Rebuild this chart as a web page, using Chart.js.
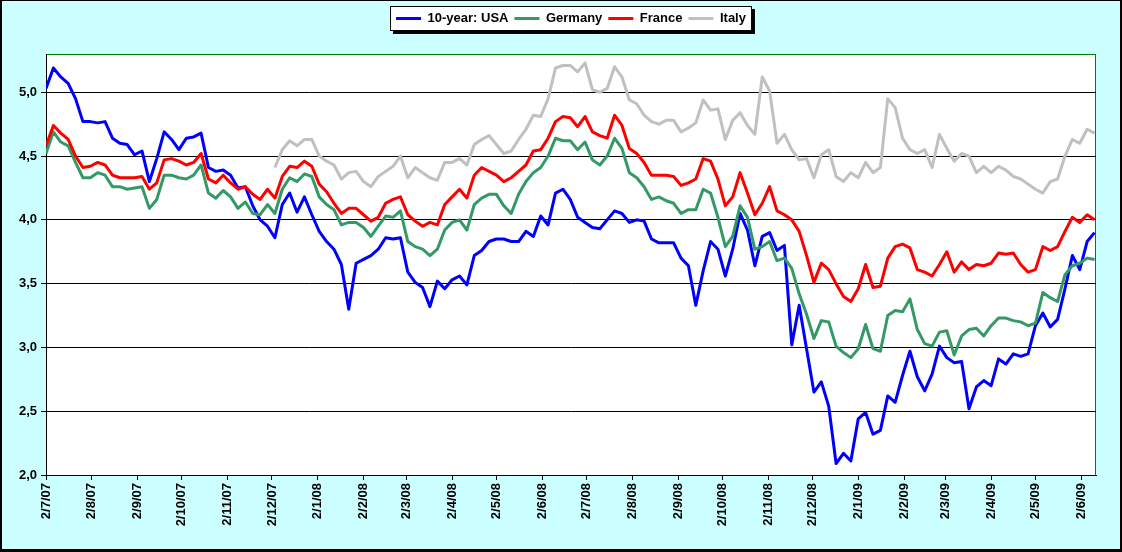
<!DOCTYPE html>
<html>
<head>
<meta charset="utf-8">
<title>10-year government bond yields</title>
<script src="https://cdn.jsdelivr.net/npm/chart.js@4.4.1/dist/chart.umd.min.js"></script>
<style>
  html, body { margin: 0; padding: 0; overflow: hidden; background: #fff; }
  #wrap { width: 1122px; height: 552px; }
</style>
</head>
<body>
<div id="wrap"><canvas id="yields" width="1122" height="552"></canvas></div>
<script>
// yields, one sample every 5 calendar days starting 2 Jul 2007
const startDate = Date.UTC(2007, 6, 2);
const stepDays = 5;

const usa = [
  5.03, 5.19, 5.12, 5.07, 4.95, 4.77, 4.77, 4.76, 4.77, 4.64, 4.60, 4.59, 4.51, 4.54, 4.30, 4.48, 4.69, 4.63, 4.55, 4.64, 4.65, 4.68, 4.41, 4.38,
  4.39, 4.35, 4.25, 4.26, 4.11, 4.00, 3.95, 3.86, 4.12, 4.21, 4.06, 4.18, 4.04, 3.91, 3.83, 3.77, 3.65, 3.30, 3.66, 3.69, 3.72, 3.77, 3.86,
  3.85, 3.86, 3.59, 3.51, 3.47, 3.32, 3.52, 3.46, 3.53, 3.56, 3.49, 3.72, 3.76, 3.83, 3.85, 3.85, 3.83, 3.83, 3.91, 3.87, 4.03, 3.96, 4.21,
  4.24, 4.16, 4.02, 3.98, 3.94, 3.93, 4.00, 4.07, 4.05, 3.98, 4.00, 3.99, 3.85, 3.82, 3.82, 3.82, 3.70, 3.64, 3.33, 3.60, 3.83, 3.77, 3.56,
  3.77, 4.05, 3.92, 3.64, 3.87, 3.90, 3.76, 3.80, 3.02, 3.33, 2.99, 2.65, 2.73, 2.54, 2.09, 2.17, 2.11, 2.44, 2.49, 2.32, 2.35, 2.62, 2.57, 2.78,
  2.97, 2.77, 2.66, 2.79, 3.01, 2.92, 2.88, 2.89, 2.52, 2.69, 2.74, 2.70, 2.91, 2.87, 2.95, 2.93, 2.95, 3.17, 3.27, 3.16, 3.22, 3.46, 3.72, 3.61, 3.83, 3.90
];
const germany = [
  4.52, 4.69, 4.61, 4.58, 4.45, 4.33, 4.33, 4.37, 4.35, 4.26, 4.26, 4.24, 4.25, 4.26, 4.09, 4.16, 4.35, 4.35, 4.33, 4.32, 4.35, 4.43, 4.21, 4.17,
  4.23, 4.18, 4.09, 4.14, 4.05, 4.04, 4.12, 4.05, 4.24, 4.33, 4.30, 4.36, 4.34, 4.18, 4.12, 4.08, 3.96, 3.98, 3.98, 3.94, 3.87, 3.95, 4.03,
  4.02, 4.07, 3.83, 3.79, 3.77, 3.72, 3.77, 3.92, 3.98, 4.00, 3.92, 4.12, 4.17, 4.20, 4.20, 4.11, 4.05, 4.20, 4.30, 4.37, 4.41, 4.50, 4.64,
  4.62, 4.62, 4.55, 4.61, 4.47, 4.43, 4.50, 4.64, 4.56, 4.37, 4.33, 4.26, 4.16, 4.18, 4.15, 4.13, 4.05, 4.08, 4.08, 4.24, 4.21, 4.02, 3.79,
  3.87, 4.11, 4.02, 3.77, 3.79, 3.83, 3.68, 3.70, 3.62, 3.42, 3.26, 3.07, 3.21, 3.20, 3.01, 2.96, 2.92, 2.99, 3.18, 2.99, 2.97, 3.25, 3.29, 3.28,
  3.38, 3.14, 3.03, 3.01, 3.12, 3.13, 2.94, 3.09, 3.14, 3.15, 3.09, 3.17, 3.23, 3.23, 3.21, 3.20, 3.17, 3.19, 3.43, 3.39, 3.36, 3.57, 3.64, 3.66, 3.70, 3.69
];
const france = [
  4.58, 4.74, 4.68, 4.63, 4.50, 4.41, 4.42, 4.45, 4.43, 4.35, 4.33, 4.33, 4.33, 4.34, 4.24, 4.29, 4.47, 4.48, 4.46, 4.43, 4.45, 4.52, 4.32, 4.29,
  4.35, 4.29, 4.24, 4.26, 4.20, 4.16, 4.24, 4.17, 4.34, 4.42, 4.41, 4.46, 4.42, 4.28, 4.22, 4.13, 4.05, 4.09, 4.09, 4.04, 3.99, 4.02, 4.13,
  4.16, 4.18, 4.04, 3.99, 3.95, 3.98, 3.96, 4.12, 4.18, 4.24, 4.17, 4.35, 4.41, 4.38, 4.35, 4.30, 4.33, 4.38, 4.43, 4.54, 4.55, 4.64, 4.77,
  4.81, 4.80, 4.73, 4.81, 4.69, 4.66, 4.64, 4.82, 4.74, 4.56, 4.52, 4.45, 4.35, 4.35, 4.35, 4.34, 4.27, 4.29, 4.32, 4.48, 4.46, 4.32, 4.11,
  4.18, 4.37, 4.21, 4.04, 4.13, 4.26, 4.07, 4.04, 4.00, 3.91, 3.72, 3.51, 3.66, 3.61, 3.50, 3.40, 3.36, 3.46, 3.65, 3.47, 3.48, 3.70, 3.79, 3.81,
  3.78, 3.61, 3.59, 3.56, 3.65, 3.75, 3.59, 3.67, 3.61, 3.65, 3.64, 3.66, 3.74, 3.73, 3.74, 3.65, 3.59, 3.61, 3.79, 3.76, 3.79, 3.91, 4.02, 3.98, 4.04, 4.00
];
// no Italian series before December 2007
const italy = [
  null, null, null, null, null, null, null, null, null, null, null, null, null, null, null, null,
  null, null, null, null, null, null, null, null, null, null, null, null, null, null, null,
  4.41, 4.55, 4.62, 4.58, 4.63, 4.63, 4.50, 4.46, 4.43, 4.32, 4.37, 4.38, 4.30, 4.26, 4.34, 4.38,
  4.42, 4.50, 4.33, 4.41, 4.37, 4.33, 4.31, 4.45, 4.45, 4.48, 4.43, 4.59, 4.63, 4.66, 4.59, 4.52, 4.54, 4.63, 4.71, 4.82, 4.81, 4.95, 5.19,
  5.21, 5.21, 5.16, 5.23, 5.02, 5.00, 5.03, 5.20, 5.12, 4.94, 4.91, 4.82, 4.77, 4.75, 4.78, 4.78, 4.69, 4.72, 4.76, 4.94, 4.86, 4.87, 4.63,
  4.78, 4.84, 4.74, 4.67, 5.12, 5.01, 4.60, 4.67, 4.55, 4.47, 4.48, 4.33, 4.51, 4.55, 4.34, 4.30, 4.37, 4.33, 4.45, 4.37, 4.41, 4.95, 4.88, 4.64,
  4.55, 4.52, 4.55, 4.41, 4.67, 4.56, 4.46, 4.52, 4.50, 4.37, 4.42, 4.37, 4.42, 4.39, 4.34, 4.32, 4.28, 4.24, 4.21, 4.30, 4.32, 4.50, 4.63, 4.60, 4.71, 4.68
];

const monthLabels = [
  '2/7/07', '2/8/07', '2/9/07', '2/10/07', '2/11/07', '2/12/07',
  '2/1/08', '2/2/08', '2/3/08', '2/4/08', '2/5/08', '2/6/08',
  '2/7/08', '2/8/08', '2/9/08', '2/10/08', '2/11/08', '2/12/08',
  '2/1/09', '2/2/09', '2/3/09', '2/4/09', '2/5/09', '2/6/09'
];
const yTicks = [2.0, 2.5, 3.0, 3.5, 4.0, 4.5, 5.0];

// d/m/yy label -> days since startDate
function dayOf(label) {
  const [d, m, y] = label.split('/').map(Number);
  return (Date.UTC(2000 + y, m - 1, d) - startDate) / 86400000;
}

function toPoints(values) {
  return values.map((v, i) => ({ x: i * stepDays, y: v }));
}

const font = { family: "'Liberation Sans', Arial, sans-serif", size: 13, weight: 'bold' };
Chart.defaults.font.family = font.family;
Chart.defaults.color = '#000';

const legendHeight = 48;

const frame = {
  id: 'frame',
  beforeLayout(chart) {
    const lg = chart.legend;
    if (lg && !lg.fixedFit) {
      const fit = lg.fit;
      lg.fit = function () { fit.call(this); this.height = legendHeight; };
      lg.fixedFit = true;
    }
  },
  afterLayout(chart) {
    // centre the legend over the plot area rather than the whole canvas
    chart.legend.left = chart.chartArea.left;
    chart.legend.right = chart.chartArea.right;
  },
  beforeDraw(chart) {
    const ctx = chart.ctx;
    const w = chart.width, h = chart.height;
    const a = chart.chartArea;
    ctx.save();
    ctx.fillStyle = '#000';
    ctx.fillRect(0, 0, w, h);
    ctx.fillStyle = '#ccffff';
    ctx.fillRect(2, 1, w - 4, h - 4);
    ctx.fillStyle = '#fff';
    ctx.fillRect(a.left, a.top, a.right - a.left, a.bottom - a.top);
    ctx.strokeStyle = '#008000';
    ctx.lineWidth = 1;
    ctx.strokeRect(a.left + 0.5, a.top + 0.5, a.right - a.left - 1, a.bottom - a.top);

    const hb = chart.legend.legendHitBoxes;
    if (hb && hb.length) {
      const x0 = Math.min(...hb.map(b => b.left)) - 6;
      const x1 = Math.max(...hb.map(b => b.left + b.width)) + 6;
      const y0 = hb[0].top - 6;
      const y1 = hb[0].top + hb[0].height + 6;
      ctx.fillStyle = '#000';
      ctx.fillRect(x0 + 3, y0 + 3, x1 - x0, y1 - y0);
      ctx.fillStyle = '#fff';
      ctx.fillRect(x0, y0, x1 - x0, y1 - y0);
      ctx.strokeStyle = '#000';
      ctx.strokeRect(x0 + 0.5, y0 + 0.5, x1 - x0 - 1, y1 - y0 - 1);
    }
    ctx.restore();
  }
};

function series(label, values, color, order) {
  return {
    label: label,
    data: toPoints(values),
    borderColor: color,
    backgroundColor: color,
    borderWidth: 3,
    pointRadius: 0,
    tension: 0,
    fill: false,
    borderJoinStyle: 'round',
    order: order
  };
}

new Chart(document.getElementById('yields'), {
  type: 'line',
  data: {
    datasets: [
      series('10-year: USA', usa, '#0000ff', 4),
      series('Germany', germany, '#339966', 3),
      series('France', france, '#ff0000', 2),
      series('Italy', italy, '#c0c0c0', 1)
    ]
  },
  options: {
    responsive: false,
    animation: false,
    layout: { padding: { top: 6, right: 26, bottom: 0, left: 0 } },
    plugins: {
      tooltip: { enabled: false },
      legend: {
        position: 'top',
        labels: {
          font: font,
          color: '#000',
          usePointStyle: true,
          pointStyle: 'line',
          pointStyleWidth: 25,
          padding: 6,
          sort: (a, b) => a.datasetIndex - b.datasetIndex
        }
      }
    },
    scales: {
      x: {
        type: 'linear',
        min: 0,
        max: 711,
        afterBuildTicks: scale => {
          scale.ticks = monthLabels.map(l => ({ value: dayOf(l) }));
        },
        afterFit: scale => { scale.height = 77; },
        ticks: {
          autoSkip: false,
          minRotation: 90,
          maxRotation: 90,
          padding: 3,
          font: font,
          color: '#000',
          callback: (value, index) => monthLabels[index]
        },
        grid: { drawOnChartArea: false, drawTicks: true, tickLength: 5, color: '#000' },
        border: { color: '#000', width: 1 }
      },
      y: {
        min: 2,
        max: 5.3,
        afterBuildTicks: scale => {
          scale.ticks = yTicks.map(v => ({ value: v }));
        },
        afterFit: scale => { scale.width = 46; },
        ticks: {
          padding: 4,
          font: font,
          color: '#000',
          callback: v => v.toFixed(1).replace('.', ',')
        },
        grid: { color: '#000', lineWidth: 1, drawTicks: true, tickLength: 5 },
        border: { color: '#000', width: 1 }
      }
    }
  },
  plugins: [frame]
});
</script>
</body>
</html>
